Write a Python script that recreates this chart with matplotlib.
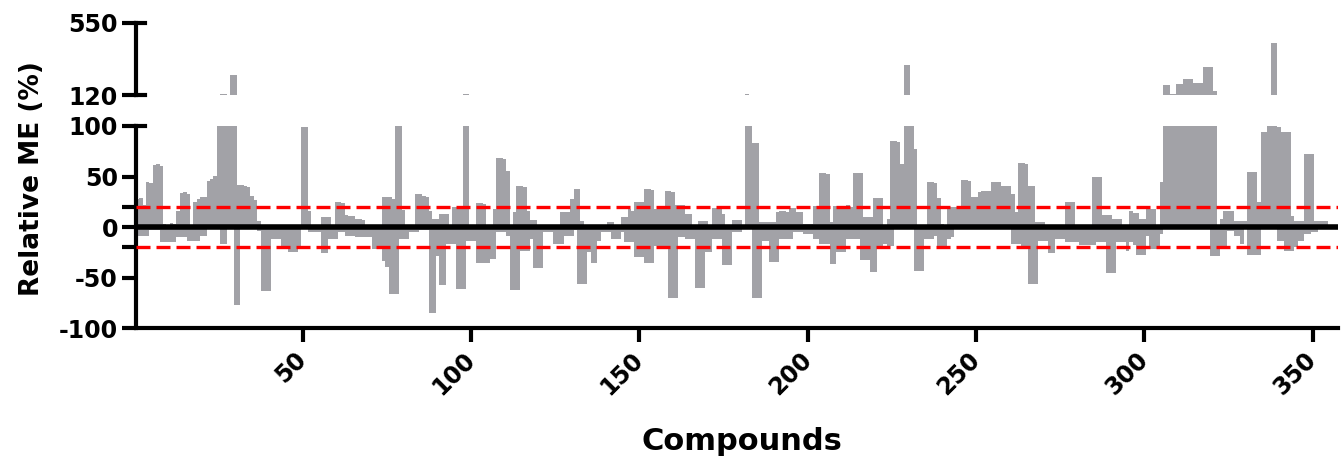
import matplotlib.pyplot as plt
import numpy as np

plt.rcParams['font.family'] = ['DejaVu Sans']
plt.rcParams['font.weight'] = 'bold'
plt.rcParams['axes.unicode_minus'] = False

# relative matrix effect per compound, upper (> 0) and lower (< 0) parts
upper = [
    28, 29, 22, 45, 44, 61, 62, 60, 3, 2,          # 1-10
    4, 3, 16, 34, 35, 33, 2, 25, 28, 30,           # 11-20
    30, 46, 48, 51, 100, 128, 128, 100, 239, 239,  # 21-30
    42, 42, 41, 40, 31, 27, 6, 0, 0, 0,            # 31-40
    0, 0, 0, 0, 0, 0, 0, 0, 0, 99,                 # 41-50
    99, 16, 0, 0, 0, 10, 10, 10, 0, 25,            # 51-60
    25, 24, 12, 11, 11, 8, 8, 7, 0, 0,             # 61-70
    0, 0, 0, 30, 30, 30, 28, 100, 100, 17,         # 71-80
    0, 0, 0, 33, 33, 31, 30, 16, 8, 8,             # 81-90
    13, 13, 13, 0, 20, 20, 20, 125, 124, 0,        # 91-100
    0, 24, 24, 23, 0, 0, 18, 68, 68, 67,           # 101-110
    56, 0, 15, 41, 41, 40, 16, 7, 7, 0,            # 111-120
    0, 0, 0, 0, 0, 0, 15, 15, 15, 28,              # 121-130
    38, 38, 6, 0, 0, 0, 0, 0, 0, 0,                # 131-140
    5, 5, 0, 0, 10, 10, 18, 16, 25, 25,            # 141-150
    25, 38, 38, 37, 18, 18, 18, 36, 36, 35,        # 151-160
    22, 22, 22, 13, 13, 0, 0, 6, 6, 6,             # 161-170
    0, 19, 19, 19, 13, 0, 0, 7, 7, 7,              # 171-180
    0, 124, 123, 83, 83, 5, 5, 5, 5, 5,            # 181-190
    15, 16, 16, 15, 19, 19, 15, 15, 3, 3,          # 191-200
    3, 21, 21, 54, 54, 53, 5, 21, 21, 21,          # 201-210
    18, 22, 20, 54, 54, 54, 10, 10, 10, 29,        # 211-220
    29, 29, 0, 8, 85, 85, 84, 62, 300, 300,        # 221-230
    100, 77, 0, 0, 0, 45, 45, 44, 29, 3,           # 231-240
    0, 20, 20, 20, 20, 47, 47, 46, 30, 30,         # 241-250
    35, 36, 36, 36, 45, 45, 45, 41, 41, 41,        # 251-260
    33, 15, 63, 63, 62, 41, 41, 5, 5, 5,           # 261-270
    0, 0, 0, 0, 0, 0, 25, 25, 25, 0,               # 271-280
    0, 0, 0, 0, 50, 50, 50, 12, 12, 12,            # 281-290
    8, 8, 8, 0, 0, 16, 14, 14, 8, 8,               # 291-300
    18, 18, 18, 0, 45, 180, 180, 126, 126, 184,    # 301-310
    184, 215, 215, 215, 190, 193, 193, 288, 288, 288,  # 311-320
    146, 0, 8, 16, 16, 16, 6, 6, 6, 6,             # 321-330
    55, 55, 55, 25, 94, 94, 100, 431, 431, 99,     # 331-340
    94, 94, 94, 11, 6, 6, 6, 72, 72, 72,           # 341-350
    6, 6, 6, 6, 0,                                 # 351-355
]
lower = [
    -9, -9, -9, -9, -3, -3, -3, -15, -15, -15,
    -15, -15, -10, -10, -10, -14, -14, -14, -14, -9,
    -9, -2, -2, -2, -2, -17, -17, 0, 0, -77,
    -77, -2, -2, -2, -2, -2, -4, -63, -63, -63,
    -12, -12, -12, -20, -20, -25, -25, -25, -20, 0,
    0, -5, -5, -5, -5, -26, -26, -12, -12, -12,
    -5, -5, -9, -9, -9, -10, -10, -10, -10, -10,
    -22, -22, -22, -33, -39, -66, -66, -66, -12, -12,
    -12, -5, -5, -5, -3, -3, -3, -85, -85, -29,
    -57, -57, -17, -17, -17, -61, -61, -61, -14, -14,
    -14, -35, -35, -35, -35, -31, -31, -5, -5, -5,
    -9, -62, -62, -62, -24, -24, -24, -12, -40, -40,
    -40, -5, -5, -5, -17, -17, -17, -9, -9, -9,
    -3, -56, -56, -56, -25, -35, -35, -14, -5, -5,
    -5, -12, -12, -12, -5, -15, -15, -15, -30, -30,
    -30, -35, -35, -35, -19, -19, -19, -19, -70, -70,
    -70, -10, -10, -12, -12, -12, -60, -60, -60, -25,
    -25, -12, -12, -12, -37, -37, -37, -5, -5, -5,
    0, 0, 0, -70, -70, -70, -14, -14, -34, -34,
    -34, -12, -12, -12, -12, -5, -5, -5, -7, -7,
    -7, -12, -12, -17, -17, -17, -36, -36, -25, -25,
    -25, -12, -12, -12, -12, -32, -32, -32, -44, -44,
    -21, -21, -17, -19, -19, -2, -2, -2, -2, -2,
    -2, -43, -43, -43, -12, -12, -12, -9, -22, -22,
    -22, -12, -10, 0, 0, 0, 0, 0, 0, 0,
    0, 0, 0, 0, 0, 0, 0, 0, 0, 0,
    -17, -17, -17, -20, -20, -56, -56, -56, -14, -14,
    -14, -26, -26, -12, -12, -12, -15, -15, -15, -15,
    -18, -18, -18, -18, -18, -15, -15, -15, -45, -45,
    -45, -15, -15, -15, -24, -15, -18, -28, -28, -28,
    -9, -22, -22, -22, -7, 0, 0, 0, 0, 0,
    0, 0, 0, 0, 0, 0, 0, 0, 0, -29,
    -29, -29, -22, -22, -4, -4, -9, -9, -17, -2,
    -28, -28, -28, -28, -1, -1, -1, 0, 0, -14,
    -14, -24, -24, -24, -20, -14, -14, -7, -7, -5,
    -5, 0, 0, 0, 0,
]
compounds = np.arange(1, len(upper) + 1)
x_ticks = [50, 100, 150, 200, 250, 300, 350]
y_ticks_low = [-100, -50, 0, 50, 100]
y_ticks_high = [120, 550]
limit = 20

bar_color = '#a2a2a7'
lw_axis = 3.0

fig = plt.figure(figsize=(13.44, 4.57), dpi=100)
ax_top = fig.add_axes([0.1012, 0.7921, 0.8943, 0.1582])
ax = fig.add_axes([0.1012, 0.2816, 0.8943, 0.4427], sharex=ax_top)

for a in (ax_top, ax):
    a.bar(compounds, upper, width=1.0, color=bar_color, linewidth=0)
    a.bar(compounds, lower, width=1.0, color=bar_color, linewidth=0)
    for s in ['top', 'right']:
        a.spines[s].set_visible(False)
    a.spines['left'].set_linewidth(lw_axis)
    a.tick_params(axis='y', length=10, width=lw_axis, pad=3, labelsize=17)

ax.set_xlim(0.5, 357.5)

# top segment of the broken axis
ax_top.set_ylim(120, 550)
ax_top.set_yticks(y_ticks_high)
ax_top.spines['bottom'].set_visible(False)
ax_top.tick_params(axis='x', bottom=False, labelbottom=False)

# lower segment
ax.set_ylim(-100, 100)
ax.set_yticks(y_ticks_low)
ax.set_yticks([-limit, limit], minor=True)
ax.tick_params(axis='y', which='minor', length=10, width=lw_axis)
ax.spines['bottom'].set_linewidth(lw_axis)
ax.set_xticks(x_ticks)
ax.tick_params(axis='x', length=10, width=lw_axis, pad=10, labelsize=17)
for lab in ax.get_xticklabels():
    lab.set_rotation(45)
    lab.set_ha('right')
    lab.set_va('center')
    lab.set_rotation_mode('anchor')

ax.axhline(0, color='black', lw=4, zorder=3)
ax.axhline(limit, color='red', lw=2.4, ls=(0, (4.2, 1.8)), zorder=4)
ax.axhline(-limit, color='red', lw=2.4, ls=(0, (4.2, 1.8)), zorder=4)

# small inward caps at the ends of the axis segments
ax_top.plot([0, 0.0075], [550, 550], color='black', lw=lw_axis,
            transform=ax_top.get_yaxis_transform(), clip_on=False)
ax_top.plot([0, 0.0075], [120, 120], color='black', lw=lw_axis,
            transform=ax_top.get_yaxis_transform(), clip_on=False)
ax.plot([0, 0.0075], [100, 100], color='black', lw=lw_axis,
        transform=ax.get_yaxis_transform(), clip_on=False)

fig.text(0.552, 0.035, 'Compounds', ha='center', va='center', fontsize=22, fontweight='bold')
fig.text(0.024, 0.61, 'Relative ME (%)', ha='center', va='center', rotation=90,
         fontsize=19, fontweight='bold')

fig.savefig('out.png', dpi=100)
